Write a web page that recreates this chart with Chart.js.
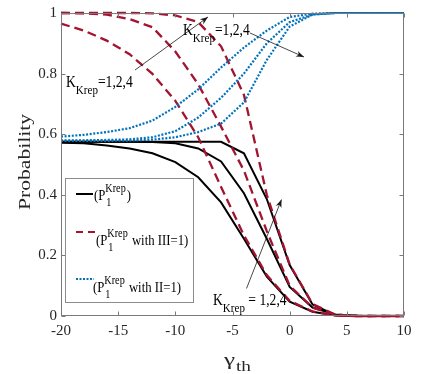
<!DOCTYPE html>
<html><head><meta charset="utf-8">
<script src="https://cdn.jsdelivr.net/npm/chart.js@4.4.1/dist/chart.umd.min.js"></script>
<style>html,body{margin:0;padding:0;background:#fff;overflow:hidden}#wrap{width:443px;height:374px}</style>
</head><body><div id="wrap"><canvas id="c" width="443" height="374"></canvas></div>
<script>
// ---- data ----
const gammaTh = [-20,-18,-16,-14,-12,-10,-8,-6,-4,-2,0,2,4,6,8,10];
// (P1^Krep), K_Krep = 1,2,4
const pK1 = [0.572,0.570,0.563,0.553,0.537,0.508,0.458,0.375,0.255,0.130,0.047,0.014,0.002,0,0,0];
const pK2 = [0.575,0.575,0.575,0.575,0.574,0.570,0.553,0.510,0.405,0.255,0.096,0.028,0.005,0,0,0];
const pK4 = [0.575,0.575,0.575,0.575,0.575,0.575,0.575,0.575,0.537,0.386,0.168,0.038,0.003,0,0,0];
// (P1^Krep with III=1)
const rK1 = [0.965,0.942,0.909,0.864,0.799,0.710,0.590,0.426,0.266,0.135,0.050,0.015,0.002,0,0,0];
const rK2 = [1.000,0.999,0.995,0.980,0.953,0.873,0.765,0.625,0.480,0.280,0.100,0.028,0.004,0,0,0];
const rK4 = [1.000,1.000,1.000,1.000,0.999,0.992,0.970,0.890,0.730,0.400,0.170,0.040,0.004,0,0,0];
// (P1^Krep with II=1)
const bK1 = [0.592,0.598,0.607,0.620,0.645,0.690,0.748,0.820,0.886,0.942,0.987,0.998,1,1,1,1];
const bK2 = [0.580,0.580,0.581,0.583,0.590,0.610,0.655,0.720,0.800,0.900,0.970,0.995,1,1,1,1];
const bK4 = [0.578,0.578,0.578,0.579,0.582,0.590,0.607,0.635,0.705,0.845,0.955,0.995,1,1,1,1];
const xTicks = [-20,-15,-10,-5,0,5,10];
const yTicks = [0,0.2,0.4,0.6,0.8,1];

const legendLabels = [')', ' with III=1)', ' with II=1)'];
const annotText = '=1,2,4';
const annotTextBottom = ' = 1,2,4';

const BLACK = '#000000', RED = '#A2142F', BLUE = '#0072BD';
const FONT = '"Liberation Serif","Times New Roman",serif';

const pts = arr => gammaTh.map((g,i)=>({x:g,y:arr[i]}));
function ds(arr, color, dash, width, order){
  return {data:pts(arr), borderColor:color, borderWidth:width, borderDash:dash,
    pointRadius:0, tension:0, fill:false, order:order, clip:4, borderCapStyle:'butt', borderJoinStyle:'miter'};
}

function txtFit(ctx, s, x, base, size, targetW){
  ctx.save();
  ctx.font = size+'px '+FONT;
  const mw = ctx.measureText(s).width;
  const sx = targetW ? targetW/mw : 0.85;
  ctx.translate(x, base); ctx.scale(sx,1);
  ctx.textBaseline='alphabetic'; ctx.textAlign='left';
  ctx.fillText(s,0,0);
  ctx.restore();
  return mw*sx;
}
function txt(ctx, s, x, base, size){ return txtFit(ctx, s, x, base, size, null); }

function arrow(ctx, x1,y1,x2,y2){
  ctx.save();
  ctx.strokeStyle='#1a1a1a'; ctx.fillStyle='#1a1a1a'; ctx.lineWidth=0.8;
  ctx.beginPath(); ctx.moveTo(x1,y1); ctx.lineTo(x2,y2); ctx.stroke();
  const a = Math.atan2(y2-y1, x2-x1), L=8, W=3;
  ctx.beginPath();
  ctx.moveTo(x2,y2);
  ctx.lineTo(x2-L*Math.cos(a)+W*Math.sin(a), y2-L*Math.sin(a)-W*Math.cos(a));
  ctx.lineTo(x2-L*0.7*Math.cos(a), y2-L*0.7*Math.sin(a));
  ctx.lineTo(x2-L*Math.cos(a)-W*Math.sin(a), y2-L*Math.sin(a)+W*Math.cos(a));
  ctx.closePath(); ctx.fill();
  ctx.restore();
}
function kLabel(ctx, x, base, rest){
  ctx.fillStyle='#000';
  let w = txt(ctx,'K',x,base,16);
  w += txt(ctx,'Krep',x+w,base+7,13);
  txt(ctx,rest,x+w,base,16);
}
function pLabel(ctx, x, base, rest){
  ctx.fillStyle='#000';
  let w = txt(ctx,'(P',x,base,15);
  const wk = txt(ctx,'Krep',x+w,base-8,12);
  txt(ctx,'1',x+w+1,base+6,12);
  txt(ctx,rest,x+w+wk+1,base,15);
}

const decor = {
  id:'decor',
  beforeDraw(chart){
    const c=chart.ctx; c.save(); c.fillStyle='#fff'; c.fillRect(0,0,chart.width,chart.height); c.restore();
  },
  afterDraw(chart){
    const c = chart.ctx, a = chart.chartArea, xs = chart.scales.x, ys = chart.scales.y;
    c.save();
    // axes box with inward ticks
    c.strokeStyle='#7a7a7a'; c.lineWidth=1;
    const L=Math.round(a.left)+0.5, R=Math.round(a.right)-0.5, T=Math.round(a.top)+0.5, B=Math.round(a.bottom)-0.5;
    c.strokeRect(L,T,R-L,B-T);
    c.beginPath();
    xTicks.forEach(v=>{const px=Math.round(xs.getPixelForValue(v))+0.5; c.moveTo(px,B); c.lineTo(px,B-4); c.moveTo(px,T); c.lineTo(px,T+4);});
    yTicks.forEach(v=>{const py=Math.round(ys.getPixelForValue(v))+0.5; c.moveTo(L,py); c.lineTo(L+4,py); c.moveTo(R,py); c.lineTo(R-4,py);});
    c.stroke();

    // legend box
    c.fillStyle='#fff'; c.fillRect(65.5,178.5,128,124);
    c.strokeStyle='#8c8c8c'; c.lineWidth=1; c.strokeRect(65.5,178.5,128,124);
    c.lineCap='butt';
    c.strokeStyle=BLACK; c.lineWidth=2; c.setLineDash([]);
    c.beginPath(); c.moveTo(76,194); c.lineTo(93,194); c.stroke();
    c.strokeStyle=RED; c.lineWidth=2.2; c.setLineDash([7,5]);
    c.beginPath(); c.moveTo(76,232); c.lineTo(95,232); c.stroke();
    c.strokeStyle=BLUE; c.lineWidth=2; c.setLineDash([2,1.5]);
    c.beginPath(); c.moveTo(76,279); c.lineTo(94,279); c.stroke();
    c.setLineDash([]);
    pLabel(c, 94, 200, legendLabels[0]);
    pLabel(c, 96, 245, legendLabels[1]);
    pLabel(c, 93, 292, legendLabels[2]);

    // annotations
    kLabel(c, 66, 87, annotText);
    arrow(c, 135, 70, 208, 17);
    kLabel(c, 183, 35, annotText);
    arrow(c, 250, 33, 304, 57);
    kLabel(c, 213, 305, annotTextBottom);
    arrow(c, 246.5, 288.5, 281.5, 199.5);

    // axis titles
    c.fillStyle='#262626';
    txtFit(c,'\u03B3',224,365,17,11);
    txtFit(c,'th',236,371,14,15);
    c.save();
    c.font='16px '+FONT;
    const mw=c.measureText('Probability').width;
    c.translate(30,210); c.rotate(-Math.PI/2); c.scale(96/mw,1);
    c.fillText('Probability',0,0);
    c.restore();
    c.restore();
  }
};

new Chart(document.getElementById('c'), {
  type:'line',
  data:{datasets:[
    ds(pK1,BLACK,[],2,3), ds(pK2,BLACK,[],2,3), ds(pK4,BLACK,[],2,3),
    ds(rK1,RED,[9,5],2.3,2), ds(rK2,RED,[9,5],2.3,2), ds(rK4,RED,[9,5],2.3,2),
    ds(bK1,BLUE,[2,1.6],2.2,1), ds(bK2,BLUE,[2,1.6],2.2,1), ds(bK4,BLUE,[2,1.6],2.2,1)
  ]},
  options:{
    responsive:false, animation:false, devicePixelRatio:1,
    layout:{padding:{left:0,top:11,right:39,bottom:0}},
    plugins:{legend:{display:false}, tooltip:{enabled:false}},
    scales:{
      x:{type:'linear', min:-20, max:10,
        afterBuildTicks: s=>{ s.ticks = xTicks.map(v=>({value:v})); },
        ticks:{font:{family:FONT,size:15}, color:'#262626', padding:6, maxRotation:0, autoSkip:false},
        grid:{display:false, drawTicks:false}, border:{display:false},
        afterFit: s=>{ s.height = 58; }},
      y:{type:'linear', min:0, max:1,
        afterBuildTicks: s=>{ s.ticks = yTicks.map(v=>({value:v})); },
        ticks:{font:{family:FONT,size:15}, color:'#262626', padding:4,
          callback: v=>{ const r=Math.round(v*10)/10; return (r===0||r===1)?String(r):r.toFixed(1); }},
        grid:{display:false, drawTicks:false}, border:{display:false},
        afterFit: s=>{ s.width = 61; }}
    }
  },
  plugins:[decor]
});
</script>
</body></html>
